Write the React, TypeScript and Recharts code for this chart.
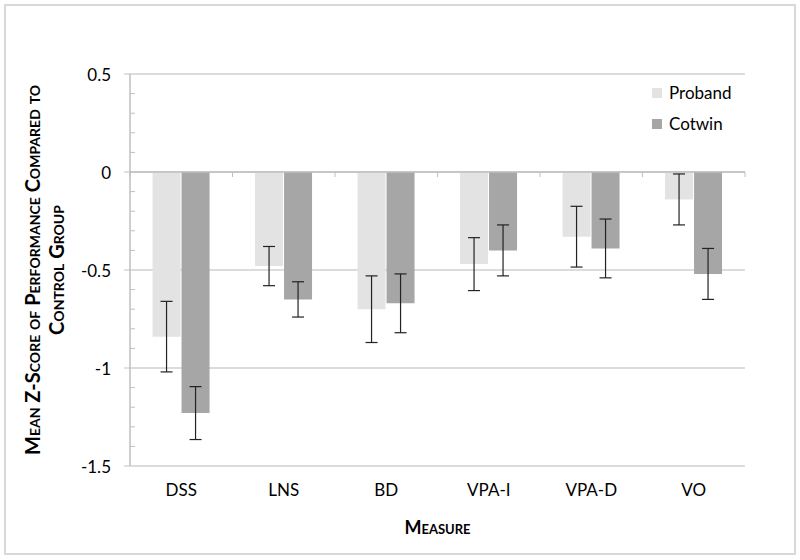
import React from 'react';
import {
  BarChart, Bar, XAxis, YAxis, CartesianGrid, ErrorBar, Legend, ReferenceLine,
} from 'recharts';

const categories = ['DSS', 'LNS', 'BD', 'VPA-I', 'VPA-D', 'VO'];
const seriesNames = ['Proband', 'Cotwin'];
const proband = [-0.84, -0.48, -0.7, -0.47, -0.33, -0.14];
const probandErr = [0.18, 0.1, 0.17, 0.135, 0.155, 0.13];
const cotwin = [-1.23, -0.65, -0.67, -0.4, -0.39, -0.52];
const cotwinErr = [0.135, 0.09, 0.15, 0.13, 0.15, 0.13];

const yTicks = [-1.5, -1, -0.5, 0, 0.5];
const yAllTicks = [-1.5, -1.4, -1.3, -1.2, -1.1, -1, -0.9, -0.8, -0.7, -0.6, -0.5, -0.4, -0.3, -0.2, -0.1, 0, 0.1, 0.2, 0.3, 0.4, 0.5];

const PROBAND_COLOR = '#e3e3e3';
const COTWIN_COLOR = '#a6a6a6';
const AXIS_COLOR = '#bfbfbf';
const GRID_COLOR = '#d0d0d0';
const FONT = 'Lato, "Liberation Sans", sans-serif';

const data = categories.map((name, i) => ({
  name,
  proband: proband[i],
  probandErr: probandErr[i],
  cotwin: cotwin[i],
  cotwinErr: cotwinErr[i],
}));

// zero line with little tick marks at category boundaries (Excel style)
const ZeroLine = (props: any) => {
  const { x1, x2, y1 } = props;
  const n = categories.length;
  const step = (x2 - x1) / n;
  const marks = [];
  for (let i = 0; i <= n; i++) {
    const x = x1 + step * i;
    marks.push(<line key={i} x1={x} x2={x} y1={y1} y2={y1 + 5} stroke={AXIS_COLOR} strokeWidth={1} />);
  }
  return (
    <g>
      <line x1={x1} x2={x2} y1={y1} y2={y1} stroke={AXIS_COLOR} strokeWidth={1.5} />
      {marks}
    </g>
  );
};

// major ticks outside with a label, minor ticks inside
const YTick = (props: any) => {
  const { x, y, payload } = props;
  const v = payload.value;
  const major = yTicks.some((t) => Math.abs(t - v) < 1e-6);
  if (!major) {
    return <line x1={x} x2={x + 5} y1={y} y2={y} stroke={AXIS_COLOR} strokeWidth={1} />;
  }
  return (
    <g>
      <line x1={x - 6} x2={x} y1={y} y2={y} stroke={AXIS_COLOR} strokeWidth={1} />
      <text x={x - 19} y={y} textAnchor="end" dominantBaseline="central" fontFamily={FONT} fontSize={17} fill="#000">
        {String(v)}
      </text>
    </g>
  );
};

const YTitle = (props: any) => {
  const vb = props.viewBox || {};
  const cy = vb.y + vb.height / 2;
  const style = { fontVariant: 'small-caps' as const };
  return (
    <g>
      <text x={32} y={cy} transform={`rotate(-90, 32, ${cy})`} textAnchor="middle" dominantBaseline="central"
        fontFamily={FONT} fontWeight={700} fontSize={20} fill="#000" style={style}>
        Mean Z-Score of Performance Compared to
      </text>
      <text x={56} y={cy} transform={`rotate(-90, 56, ${cy})`} textAnchor="middle" dominantBaseline="central"
        fontFamily={FONT} fontWeight={700} fontSize={20} fill="#000" style={style}>
        Control Group
      </text>
    </g>
  );
};

const XTitle = (props: any) => {
  const vb = props.viewBox || {};
  return (
    <text x={vb.x + vb.width / 2} y={527} textAnchor="middle" dominantBaseline="central"
      fontFamily={FONT} fontWeight={700} fontSize={18} fill="#000" style={{ fontVariant: 'small-caps' }}>
      Measure
    </text>
  );
};

const LegendBox = (props: any) => {
  const items = [...(props.payload || [])].sort(
    (a: any, b: any) => seriesNames.indexOf(a.value) - seriesNames.indexOf(b.value),
  );
  return (
    <div style={{ fontFamily: FONT, fontSize: 17, color: '#000' }}>
      {items.map((it: any) => (
        <div key={it.value} style={{ display: 'flex', alignItems: 'center', height: 31 }}>
          <span style={{ width: 10, height: 10, background: it.color, display: 'inline-block', marginRight: 7 }} />
          <span>{it.value}</span>
        </div>
      ))}
    </div>
  );
};

export default function App() {
  return (
    <div style={{ position: 'absolute', left: 0, top: 0, width: 800, height: 560, background: '#fff' }}>
      <div style={{ position: 'absolute', left: 4, top: 4, width: 788, height: 547, border: '2px solid #d9d9d9' }} />
      <BarChart
        width={800}
        height={560}
        data={data}
        margin={{ top: 74, right: 55, bottom: 0, left: 0 }}
        barGap={1}
        barCategoryGap="22%"
      >
        <CartesianGrid vertical={false} horizontalValues={yTicks} stroke={GRID_COLOR} strokeWidth={1.5} />
        <YAxis
          domain={[-1.5, 0.5]}
          ticks={yAllTicks}
          interval={0}
          width={130}
          axisLine={{ stroke: AXIS_COLOR, strokeWidth: 1.5 }}
          tickLine={false}
          tickSize={0}
          tickMargin={0}
          tick={YTick}
          label={{ content: YTitle }}
        />
        <XAxis
          dataKey="name"
          height={94}
          axisLine={false}
          tickLine={false}
          tickSize={0}
          tickMargin={18}
          tick={{ fontFamily: FONT, fontSize: 17, fill: '#000' }}
          label={{ content: XTitle }}
        />
        <Legend
          layout="horizontal"
          verticalAlign="middle"
          align="center"
          wrapperStyle={{ left: 652, top: 77, width: 130 }}
          content={LegendBox}
        />
        <Bar dataKey="proband" name="Proband" fill={PROBAND_COLOR} isAnimationActive={false}>
          <ErrorBar dataKey="probandErr" width={6} stroke="#222" strokeWidth={1.2} />
        </Bar>
        <Bar dataKey="cotwin" name="Cotwin" fill={COTWIN_COLOR} isAnimationActive={false}>
          <ErrorBar dataKey="cotwinErr" width={6} stroke="#222" strokeWidth={1.2} />
        </Bar>
        <ReferenceLine y={0} shape={ZeroLine} />
      </BarChart>
    </div>
  );
}
